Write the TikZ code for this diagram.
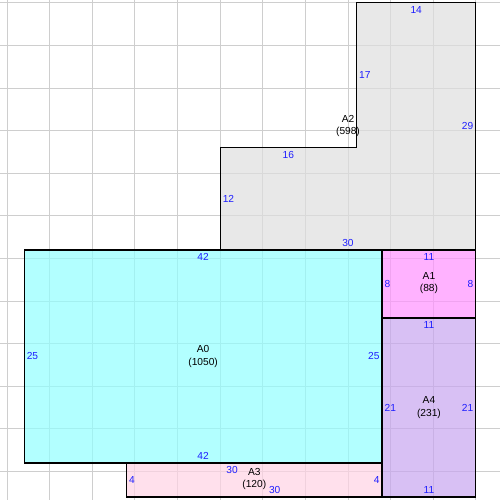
\documentclass[tikz,border=0pt]{standalone}
\usepackage{fontspec}
\setmainfont{Liberation Sans}
\definecolor{gridgray}{RGB}{206,206,206}
\definecolor{dimblue}{RGB}{30,30,255}
\definecolor{cA0}{RGB}{145,255,255}
\definecolor{cA1}{RGB}{255,145,255}
\definecolor{cA2}{RGB}{222,222,222}
\definecolor{cA3}{RGB}{255,211,228}
\definecolor{cA4}{RGB}{199,165,239}
\begin{document}
\begin{tikzpicture}[x=0.15cm,y=0.15cm,
  gridline/.style={draw=gridgray,line width=0.5pt},
  region/.style={draw=black,line width=0.6pt,fill opacity=0.7},
  areaname/.style={font=\fontsize{5.1}{6.1}\selectfont,align=center,inner sep=0pt,text=black},
  dimlabel/.style={font=\fontsize{5.1}{6.1}\selectfont,text=dimblue,inner xsep=1.1pt,inner ysep=1.6pt}]
\useasboundingbox (-2.84,-4.35) rectangle (55.84,54.33);
% grid
\foreach \gx in {-2,3,...,53} {\draw[gridline] (\gx,-4.35) -- (\gx,54.33);}
\foreach \gy in {-1,4,...,54} {\draw[gridline] (-2.84,\gy) -- (55.84,\gy);}
% regions
\path[region,fill=cA2] (23,25) -- (53,25) -- (53,54) -- (39,54) -- (39,37) -- (23,37) -- cycle;
\path[region,fill=cA0] (0,0) rectangle (42,25);
\path[region,fill=cA3] (12,-4) rectangle (42,0);
\path[region,fill=cA1] (42,17) rectangle (53,25);
\path[region,fill=cA4] (42,-4) rectangle (53,17);
% A0
\node[areaname] (nA0) at (21,12.5) {A0\\(1050)};
\node[dimlabel,anchor=north] (a0t) at (21,25) {42};
\node[dimlabel,anchor=south] (a0b) at (21,0) {42};
\node[dimlabel,anchor=west] (a0l) at (0,12.5) {25};
\node[dimlabel,anchor=east] (a0r) at (42,12.5) {25};
% A1
\node[areaname] (nA1) at (47.5,21.1) {A1\\(88)};
\node[dimlabel,anchor=north] (a1t) at (47.5,25) {11};
\node[dimlabel,anchor=west] (a1l) at (42,21) {8};
\node[dimlabel,anchor=east] (a1r) at (53,21) {8};
% A4
\node[areaname] (nA4) at (47.5,6.5) {A4\\(231)};
\node[dimlabel,anchor=north] (a4t) at (47.5,17) {11};
\node[dimlabel,anchor=south] (a4b) at (47.5,-4) {11};
\node[dimlabel,anchor=west] (a4l) at (42,6.5) {21};
\node[dimlabel,anchor=east] (a4r) at (53,6.5) {21};
% A3
\node[areaname] (nA3) at (27,-1.85) {A3\\(120)};
\node[dimlabel,anchor=north] (a3t) at (24.4,0) {30};
\node[dimlabel,anchor=south] (a3b) at (29.4,-4) {30};
\node[dimlabel,anchor=west] (a3l) at (12,-2) {4};
\node[dimlabel,anchor=east] (a3r) at (42,-2) {4};
% A2
\node[areaname] (nA2) at (38,39.5) {A2\\(598)};
\node[dimlabel,anchor=north] (a2t) at (46,54) {14};
\node[dimlabel,anchor=west] (a2i) at (39,45.5) {17};
\node[dimlabel,anchor=east] (a2r) at (53,39.5) {29};
\node[dimlabel,anchor=north] (a2s) at (31,37) {16};
\node[dimlabel,anchor=west] (a2l) at (23,31) {12};
\node[dimlabel,anchor=south] (a2b) at (38,25) {30};
\end{tikzpicture}
\end{document}
